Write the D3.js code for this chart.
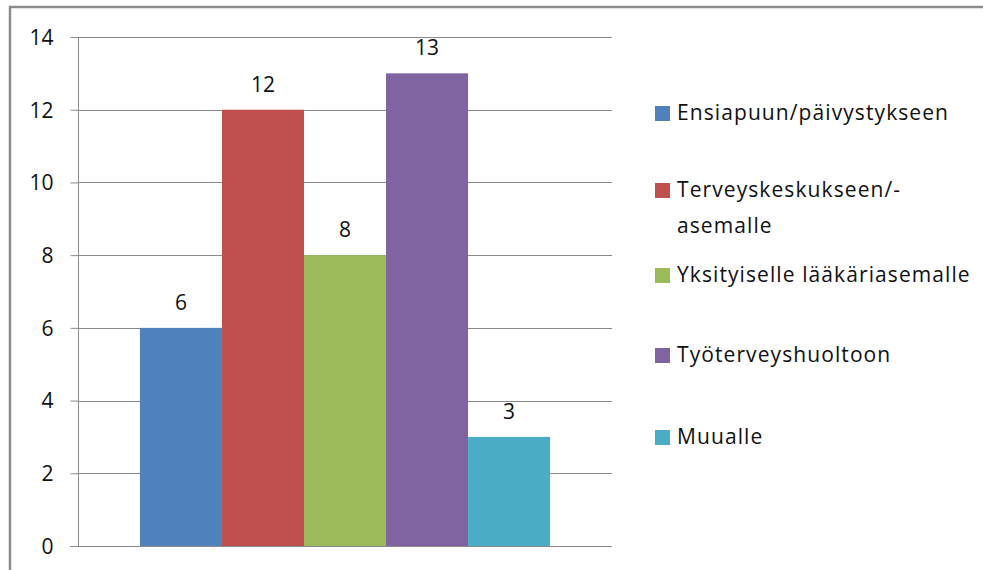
<!DOCTYPE html>
<html>
<head>
<meta charset="utf-8">
<script src="https://cdn.jsdelivr.net/npm/d3@7"></script>
<style>
  html, body { margin: 0; padding: 0; background: #fff; }
  svg { display: block; font-family: "Open Sans", "Liberation Sans", Arial, sans-serif; }
</style>
</head>
<body>
<div id="chart"></div>
<script>
// Data
const categories = [
  'Ensiapuun/päivystykseen',
  'Terveyskeskukseen/-asemalle',
  'Yksityiselle lääkäriasemalle',
  'Työterveyshuoltoon',
  'Muualle'
];
const values = [6, 12, 8, 13, 3];
const colors = ['#4F81BD', '#C0504D', '#9BBB59', '#8064A2', '#4BACC6'];
const legendLines = [
  ['Ensiapuun/päivystykseen'],
  ['Terveyskeskukseen/-', 'asemalle'],
  ['Yksityiselle lääkäriasemalle'],
  ['Työterveyshuoltoon'],
  ['Muualle']
];
const yTicks = [0, 2, 4, 6, 8, 10, 12, 14];

const width = 983, height = 570;
const plot = { left: 78, right: 612, top: 37, bottom: 546 };
const fs = '21px';

const svg = d3.select('#chart').append('svg')
  .attr('width', width)
  .attr('height', height);

// widen legend text a little so the first entry is as wide as in the original
const probe = svg.append('text').style('font-size', fs).text(legendLines[0][0]);
const spacing = Math.max(0, (271 - probe.node().getComputedTextLength()) / (legendLines[0][0].length - 1));
probe.remove();

// outer chart frame (cropped at right and bottom)
svg.append('rect')
  .attr('x', 10).attr('y', 7)
  .attr('width', width + 20).attr('height', height + 20)
  .attr('fill', 'none')
  .attr('stroke', '#8c8c8c')
  .attr('stroke-width', 2.5);

const y = d3.scaleLinear()
  .domain([0, 14])
  .range([plot.bottom, plot.top]);

// one category band, bars side by side inside it (gap 150%)
const band = d3.scaleBand()
  .domain(['all'])
  .range([plot.left, plot.right])
  .paddingInner(0)
  .paddingOuter(0.151);

const x = d3.scaleBand()
  .domain(categories)
  .range([band('all'), band('all') + band.bandwidth()]);

// gridlines
svg.append('g')
  .selectAll('line')
  .data(yTicks.filter(d => d > 0))
  .enter()
  .append('line')
  .attr('x1', plot.left).attr('x2', plot.right)
  .attr('y1', d => Math.round(y(d)) + 0.5)
  .attr('y2', d => Math.round(y(d)) + 0.5)
  .attr('stroke', '#8a8a8a')
  .attr('stroke-width', 1);

// bars
svg.append('g')
  .selectAll('rect')
  .data(values)
  .enter()
  .append('rect')
  .attr('x', (d, i) => x(categories[i]))
  .attr('y', d => y(d))
  .attr('width', x.bandwidth())
  .attr('height', d => y(0) - y(d))
  .attr('fill', (d, i) => colors[i]);

// value labels
svg.append('g')
  .selectAll('text')
  .data(values)
  .enter()
  .append('text')
  .attr('x', (d, i) => x(categories[i]) + x.bandwidth() / 2)
  .attr('y', d => y(d) - 18)
  .attr('text-anchor', 'middle')
  .style('font-size', fs)
  .style('fill', '#111')
  .text(d => d);

// y axis
const yAxis = svg.append('g')
  .attr('transform', `translate(${plot.left + 0.5},0)`)
  .call(d3.axisLeft(y)
    .tickValues(yTicks)
    .tickSize(8)
    .tickPadding(17)
    .tickFormat(d3.format('d')));

yAxis.select('.domain')
  .attr('d', `M0,${plot.top}V${plot.bottom}`)
  .attr('stroke', '#8a8a8a');
yAxis.selectAll('.tick line').attr('stroke', '#8a8a8a');
yAxis.selectAll('.tick text')
  .style('font-size', fs)
  .style('font-family', '"Open Sans", "Liberation Sans", Arial, sans-serif')
  .style('fill', '#111')
  .attr('dy', '0.35em');

// x axis baseline
svg.append('line')
  .attr('x1', plot.left - 8).attr('x2', plot.right)
  .attr('y1', Math.round(y(0)) + 0.5).attr('y2', Math.round(y(0)) + 0.5)
  .attr('stroke', '#8a8a8a');

// legend
const legendY = [113, 190, 275, 355, 437];
const legend = svg.append('g');
categories.forEach((c, i) => {
  const g = legend.append('g').attr('transform', `translate(655,${legendY[i]})`);
  g.append('rect')
    .attr('x', 0).attr('y', -7)
    .attr('width', 15).attr('height', 15)
    .attr('fill', colors[i]);
  legendLines[i].forEach((line, j) => {
    g.append('text')
      .attr('x', 22)
      .attr('y', j * 36)
      .attr('dy', '0.35em')
      .style('font-size', fs)
      .style('letter-spacing', spacing + 'px')
      .style('fill', '#111')
      .text(line);
  });
});
</script>
</body>
</html>
